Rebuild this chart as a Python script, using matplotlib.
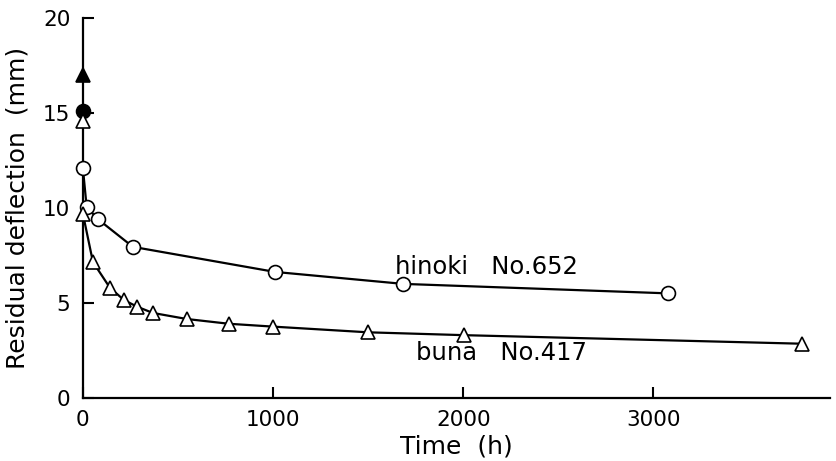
import matplotlib.pyplot as plt

# hinoki No.652 (circles)
hinoki_t = [0, 0, 20, 80, 263, 1010, 1684, 3079]
hinoki_y = [15.1, 12.1, 10.05, 9.4, 7.95, 6.63, 6.0, 5.5]
hinoki_filled = [True, False, False, False, False, False, False, False]

# buna No.417 (triangles)
buna_t = [0, 0, 0, 53, 142, 216, 285, 368, 547, 768, 1000, 1500, 2005, 3779]
buna_y = [17.0, 14.6, 9.7, 7.15, 5.8, 5.15, 4.8, 4.47, 4.15, 3.9, 3.75, 3.45, 3.3, 2.85]
buna_filled = [True, False, False, False, False, False, False, False, False, False, False, False, False, False]

xticks = [0, 1000, 2000, 3000]
yticks = [0, 5, 10, 15, 20]

plt.rcParams['font.family'] = ['DejaVu Sans']

fig = plt.figure(figsize=(8.37, 4.61), dpi=100)
ax = fig.add_axes([0.099, 0.137, 0.893, 0.824])

for t, y, filled, m in [(hinoki_t, hinoki_y, hinoki_filled, 'o'),
                        (buna_t, buna_y, buna_filled, '^')]:
    ax.plot(t, y, color='black', lw=1.6, zorder=2)
    for ti, yi, f in zip(t, y, filled):
        ax.plot(ti, yi, marker=m, ms=10 if m == 'o' else 10.5,
                mfc='black' if f else 'white', mec='black', mew=1.2,
                ls='none', zorder=3, clip_on=False)

ax.text(1642, 6.5, 'hinoki   No.652', fontsize=17.5)
ax.text(1750, 2.0, 'buna   No.417', fontsize=17.5)

ax.set_xlim(0, 3930)
ax.set_ylim(0, 20)
ax.set_xticks(xticks)
ax.set_yticks(yticks)
ax.spines['top'].set_visible(False)
ax.spines['right'].set_visible(False)
for s in ['left', 'bottom']:
    ax.spines[s].set_linewidth(1.6)
ax.tick_params(direction='in', length=8, width=1.5, labelsize=15.5, pad=9)
ax.set_xlabel('Time  (h)', fontsize=18, labelpad=3)
ax.set_ylabel('Residual deflection  (mm)', fontsize=18, labelpad=10)

fig.savefig('out.png', dpi=100)
